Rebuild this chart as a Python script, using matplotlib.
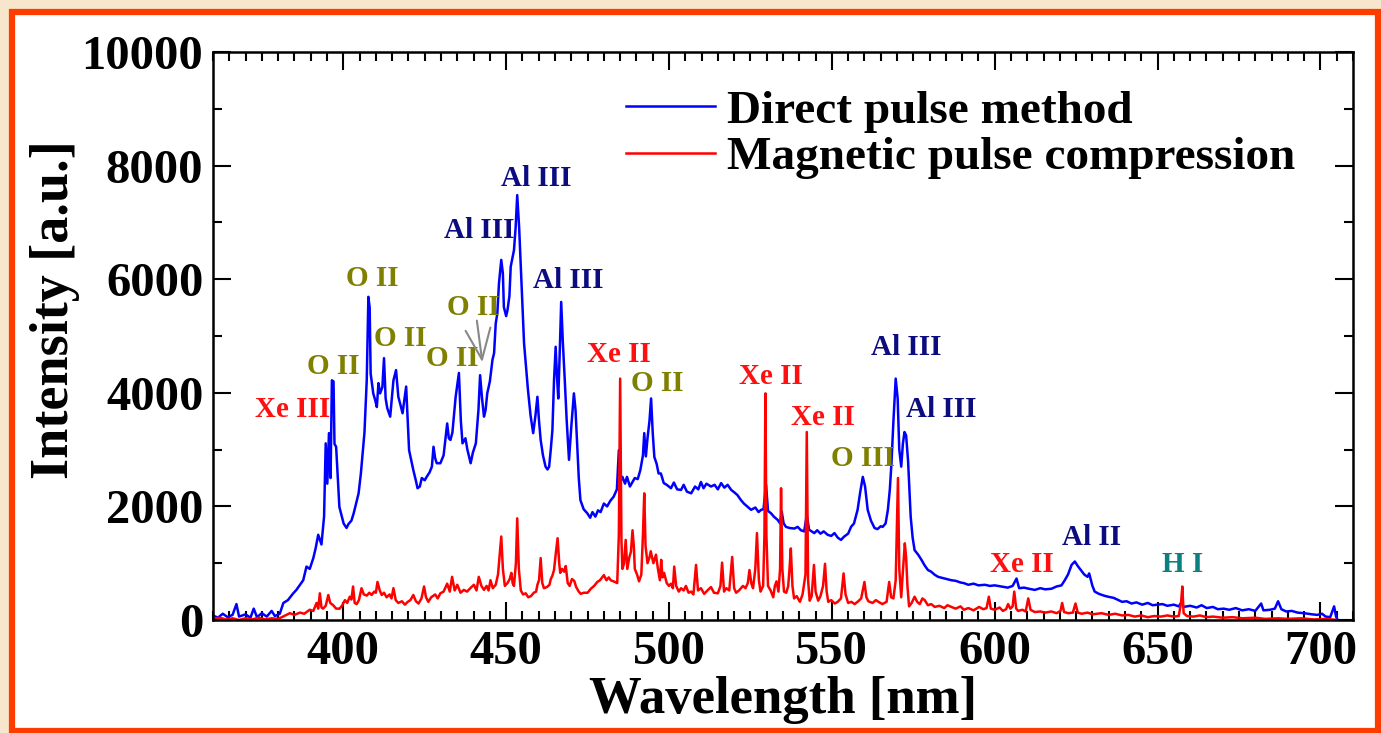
import numpy as np
import matplotlib.pyplot as plt
from matplotlib.patches import Rectangle
from matplotlib.ticker import MultipleLocator

plt.rcParams.update({
    "font.family": "Liberation Serif",
    "font.weight": "bold",
    "axes.labelweight": "bold",
})

# Direct pulse method (blue)
direct = np.array([
    (360, 80), (361.5, 40), (363, 110), (364.5, 50), (366, 90), (367.2, 280), (368, 60),
    (370, 100), (371.5, 40), (372.5, 200), (373.5, 50), (375, 120), (376.5, 60), (378, 160),
    (379, 70), (380.5, 110), (381.6, 300), (383, 350), (384.5, 460), (385.6, 530), (386.7, 620),
    (387.7, 700), (388.7, 940), (389.7, 900), (390.8, 1090), (391.5, 1260), (392.3, 1500),
    (393.3, 1330), (394.1, 1820), (394.6, 3110), (395.1, 2400), (395.6, 3290), (396.1, 2500),
    (396.5, 4220), (397.0, 4200), (397.3, 3100), (397.8, 3050), (398.3, 2520), (398.8, 1990),
    (400.1, 1700), (401.0, 1620), (401.6, 1690), (402.5, 1750), (403.2, 1880), (404.7, 2230),
    (405.4, 2580), (406.5, 3300), (407.2, 4220), (407.7, 5690), (408.1, 5500), (408.4, 4340),
    (409.2, 3990), (409.8, 3870), (410.3, 3750), (410.8, 4170), (411.3, 3990), (412.0, 4100),
    (412.5, 4610), (413.0, 3900), (413.5, 3730), (414.4, 3580), (415.4, 4220), (416.2, 4400),
    (416.9, 3930), (417.5, 3800), (418.2, 3640), (419.3, 4110), (419.8, 3500), (420.2, 2990),
    (421.5, 2640), (422.3, 2450), (422.8, 2320), (423.5, 2350), (424.1, 2500), (425.0, 2460),
    (425.6, 2520), (426.5, 2600), (427.2, 2700), (427.7, 3050), (428.2, 2850), (428.7, 2760),
    (429.8, 2760), (430.8, 2900), (431.9, 3460), (432.4, 3200), (432.9, 3170), (433.5, 3300),
    (434.5, 3930), (435.5, 4350), (436.1, 3500), (436.6, 3110), (437.5, 3200), (438.1, 3000),
    (439.1, 2760), (439.8, 2950), (440.7, 3110), (441.5, 3700), (442.0, 4310), (442.6, 3900),
    (443.2, 3580), (443.7, 3700), (444.2, 3990), (445.0, 4200), (445.8, 4580), (446.3, 4700),
    (446.8, 5220), (447.3, 5400), (447.8, 5930), (448.5, 6340), (449.0, 6100), (449.3, 5510),
    (450.0, 5350), (450.4, 5450), (451.0, 5700), (451.4, 6220), (452.0, 6400), (452.4, 6510),
    (452.9, 6900), (453.4, 7480), (454.0, 6900), (454.5, 6220), (455.0, 5500), (455.5, 4870),
    (456.2, 4400), (456.7, 4050), (457.5, 3600), (458.3, 3290), (459.0, 3600), (459.6, 3930),
    (460.1, 3500), (460.6, 3170), (461.3, 2900), (462.1, 2700), (462.7, 2650), (463.2, 2700),
    (463.7, 3000), (464.2, 3340), (464.7, 4220), (465.2, 4810), (465.6, 4300), (466.0, 3900),
    (466.5, 4800), (466.9, 5600), (467.4, 4900), (468.0, 4220), (468.6, 3500), (469.3, 2820),
    (470.0, 3400), (470.8, 3990), (471.3, 3700), (471.8, 3110), (472.3, 2500), (472.8, 2110),
    (473.8, 1950), (474.9, 1880), (475.8, 1800), (476.5, 1900), (477.4, 1820), (478.2, 1930),
    (479.0, 1900), (480.0, 2050), (481.0, 2000), (482.0, 2100), (483.0, 2170), (484.0, 2300),
    (484.6, 2990), (485.2, 2450), (485.7, 2520), (486.5, 2400), (487.1, 2520), (488.0, 2350),
    (488.6, 2410), (489.5, 2500), (490.4, 2480), (491.2, 2640), (492.0, 2900), (492.4, 3290),
    (492.9, 2880), (493.4, 3200), (494.0, 3500), (494.5, 3900), (495.0, 3300), (495.5, 2870),
    (496.2, 2750), (496.8, 2580), (497.5, 2580), (498.4, 2410), (499.3, 2380), (500.6, 2320),
    (501.5, 2420), (502.5, 2300), (503.7, 2290), (504.5, 2380), (505.5, 2260), (506.8, 2230),
    (508.0, 2350), (509.0, 2300), (509.8, 2430), (510.6, 2320), (511.5, 2400), (512.9, 2350),
    (514.0, 2380), (515.0, 2300), (516.0, 2410), (517.0, 2330), (518.0, 2380), (519.1, 2290),
    (520.0, 2250), (521.0, 2200), (522.1, 2110), (523.0, 2050), (524.0, 2000), (525.2, 1940),
    (526.5, 1980), (527.5, 1900), (528.3, 1940), (529.0, 1950), (529.8, 2380), (530.4, 1920),
    (531.3, 1880), (532.2, 1820), (533.4, 1760), (534.1, 1700), (534.6, 1910), (535.2, 1700),
    (535.9, 1640), (537.0, 1620), (538.5, 1610), (539.5, 1640), (540.5, 1580), (541.5, 1560),
    (542.3, 1850), (543.0, 1590), (544.6, 1530), (545.5, 1580), (546.5, 1520), (547.5, 1560),
    (548.7, 1500), (549.8, 1480), (550.8, 1530), (551.8, 1450), (552.8, 1410), (553.8, 1470),
    (555.0, 1520), (555.9, 1640), (556.8, 1700), (557.9, 1940), (558.7, 2250), (559.5, 2520),
    (560.2, 2350), (561.0, 1940), (562.0, 1750), (563.1, 1620), (564.0, 1600), (565.0, 1650),
    (565.6, 1640), (566.5, 1700), (567.2, 1940), (567.8, 2300), (568.3, 2760), (568.9, 3500),
    (569.6, 4250), (570.2, 3900), (570.7, 3000), (571.3, 2700), (571.8, 3100), (572.3, 3310),
    (572.8, 3250), (573.4, 2800), (574.2, 1820), (574.8, 1450), (575.4, 1230), (576.5, 1150),
    (577.5, 1060), (578.5, 960), (579.5, 880), (580.5, 850), (581.5, 800), (582.6, 760),
    (584.0, 740), (585.5, 720), (586.7, 700), (588.0, 690), (589.5, 660), (590.5, 650),
    (591.9, 620), (593.5, 640), (595.0, 610), (597.0, 620), (598.5, 600), (600.0, 610),
    (602.1, 590), (604.0, 570), (605.5, 600), (606.7, 730), (607.5, 560), (609.0, 570),
    (610.5, 550), (612.3, 530), (614.0, 560), (615.5, 540), (617.4, 550), (619.0, 590),
    (620.5, 610), (621.5, 700), (622.5, 800), (623.6, 970), (624.6, 1030), (625.5, 950),
    (626.7, 860), (627.5, 800), (628.5, 760), (629.0, 820), (630.0, 600), (630.7, 500),
    (632.0, 460), (633.5, 430), (634.8, 410), (636.5, 390), (638.0, 350), (639.1, 320),
    (640.5, 330), (642.0, 290), (643.5, 310), (645.3, 270), (647.0, 300), (648.5, 260),
    (650.0, 270), (651.5, 280), (653.0, 250), (655.0, 270), (656.5, 240), (657.3, 310),
    (658.0, 230), (660.0, 250), (662.0, 220), (663.5, 260), (665.1, 210), (667.0, 230),
    (668.5, 190), (670.3, 200), (672.0, 180), (674.0, 210), (676.0, 170), (678.0, 190),
    (680.0, 160), (681.8, 290), (682.5, 170), (684.5, 180), (686.0, 200), (687.0, 330),
    (688.0, 190), (689.5, 150), (691.2, 160), (693.0, 130), (695.0, 120), (697.4, 100),
    (699.0, 90), (700.5, 110), (701.6, 60), (703.0, 50), (704.2, 240), (704.8, 60), (705.3, 0),
])

# Magnetic pulse compression (red)
magnetic = np.array([
    (360, 20), (362, 40), (364, 10), (366, 30), (368, 0), (370, 30), (372, 10), (374, 40),
    (376, 10), (378, 30), (380, 20), (381.5, 60), (383.6, 120), (385.0, 90), (386.7, 130),
    (388.0, 110), (389.7, 180), (390.8, 160), (391.8, 300), (392.3, 200), (392.8, 470),
    (393.3, 220), (393.8, 200), (394.6, 250), (395.4, 440), (396.0, 300), (396.9, 260),
    (397.8, 200), (398.9, 200), (399.7, 260), (400.5, 350), (401.2, 300), (402.0, 410),
    (402.5, 360), (403.0, 590), (403.5, 300), (404.1, 280), (404.8, 350), (405.6, 560),
    (406.3, 450), (407.2, 430), (408.0, 480), (408.7, 440), (409.5, 500), (410.0, 480),
    (410.5, 670), (411.2, 520), (411.8, 440), (412.5, 480), (413.3, 400), (414.2, 450),
    (414.8, 380), (415.4, 560), (416.1, 350), (416.9, 300), (418.0, 330), (418.9, 270),
    (419.8, 320), (420.6, 350), (421.5, 440), (422.3, 330), (423.1, 290), (424.0, 380),
    (424.8, 590), (425.4, 400), (426.1, 320), (427.0, 400), (428.2, 450), (429.0, 380),
    (429.8, 470), (430.8, 500), (431.9, 640), (432.7, 500), (433.4, 760), (434.2, 520),
    (435.0, 620), (436.0, 480), (437.0, 530), (438.0, 500), (439.0, 560), (440.1, 620),
    (440.9, 520), (441.6, 760), (442.4, 600), (443.2, 530), (444.0, 600), (444.6, 520),
    (445.2, 700), (445.9, 560), (446.8, 620), (447.5, 800), (448.1, 1200), (448.5, 1470),
    (449.0, 900), (449.6, 600), (450.4, 650), (451.1, 720), (451.6, 830), (452.0, 650),
    (452.4, 600), (453.0, 1000), (453.4, 1790), (453.9, 900), (454.5, 520), (455.2, 450),
    (456.0, 470), (456.8, 400), (457.6, 420), (458.5, 480), (459.2, 500), (459.6, 620),
    (460.1, 700), (460.6, 1090), (461.1, 650), (461.6, 560), (462.5, 580), (463.3, 620),
    (463.7, 720), (464.2, 780), (464.7, 880), (465.3, 1200), (465.8, 1440), (466.3, 1000),
    (466.6, 830), (467.2, 900), (467.8, 850), (468.3, 950), (468.9, 650), (469.5, 600),
    (470.2, 720), (470.9, 690), (471.5, 580), (472.3, 500), (472.9, 460), (473.8, 480),
    (475.0, 480), (476.0, 550), (477.0, 600), (478.0, 670), (478.8, 700), (480.0, 790),
    (480.8, 700), (481.5, 750), (482.1, 700), (483.0, 680), (484.1, 650), (484.6, 1500),
    (485.0, 4250), (485.4, 1400), (485.7, 900), (486.2, 1000), (486.7, 1410), (487.2, 900),
    (487.8, 1100), (488.3, 1200), (488.8, 1580), (489.2, 1300), (489.5, 900), (490.2, 800),
    (490.8, 680), (491.5, 800), (492.0, 1500), (492.4, 2230), (492.8, 1300), (493.4, 1000),
    (494.0, 1100), (494.4, 1210), (495.2, 1000), (496.0, 1150), (496.6, 900), (497.2, 700),
    (497.6, 1060), (498.0, 750), (498.5, 830), (499.3, 650), (500.0, 600), (500.6, 640),
    (501.2, 560), (501.6, 940), (502.2, 600), (503.0, 500), (503.7, 560), (504.5, 520),
    (505.2, 600), (506.0, 480), (506.8, 500), (507.5, 450), (508.3, 970), (508.9, 520),
    (509.8, 560), (510.8, 460), (511.8, 520), (512.9, 580), (513.8, 480), (515.0, 470),
    (515.8, 600), (516.3, 1010), (516.9, 500), (517.6, 560), (518.5, 520), (519.4, 1110),
    (520.0, 560), (520.6, 480), (521.5, 520), (522.7, 600), (523.5, 560), (524.2, 650),
    (524.7, 880), (525.3, 640), (525.8, 560), (526.5, 900), (527.0, 1530), (527.6, 700),
    (528.1, 500), (528.9, 600), (529.3, 1500), (529.6, 3990), (529.9, 1500), (530.4, 600),
    (531.2, 520), (532.0, 400), (532.5, 600), (533.0, 680), (533.6, 500), (534.1, 900),
    (534.4, 2320), (534.8, 900), (535.3, 500), (536.0, 480), (536.6, 600), (537.0, 900),
    (537.4, 1260), (537.9, 600), (538.4, 380), (539.2, 420), (540.2, 320), (541.0, 450),
    (541.9, 800), (542.3, 3310), (542.7, 700), (543.2, 340), (543.8, 420), (544.5, 970),
    (545.0, 500), (545.8, 340), (546.5, 420), (547.3, 600), (547.9, 990), (548.4, 500),
    (548.9, 320), (549.8, 350), (550.9, 290), (551.8, 320), (552.8, 380), (553.6, 820),
    (554.2, 450), (555.0, 300), (556.0, 320), (557.0, 280), (558.1, 330), (559.0, 380),
    (560.0, 670), (560.6, 400), (561.2, 330), (562.5, 300), (563.5, 350), (564.3, 320),
    (565.5, 280), (566.8, 320), (567.6, 670), (568.2, 400), (568.9, 380), (569.6, 700),
    (570.0, 1700), (570.3, 2500), (570.7, 900), (571.3, 400), (571.8, 850), (572.4, 1350),
    (572.8, 1100), (573.2, 600), (573.7, 240), (574.5, 300), (575.4, 410), (576.2, 320),
    (577.0, 280), (577.8, 380), (578.5, 350), (579.5, 260), (580.5, 280), (581.6, 230),
    (583.0, 250), (584.5, 210), (585.5, 260), (586.7, 230), (588.0, 200), (589.5, 240),
    (590.5, 180), (591.9, 210), (593.5, 170), (595.2, 230), (596.5, 190), (597.5, 210),
    (598.2, 410), (598.8, 200), (600.0, 180), (601.5, 220), (602.5, 160), (603.5, 190),
    (604.1, 280), (604.8, 200), (605.5, 240), (606.0, 500), (606.6, 200), (607.2, 160),
    (608.5, 180), (609.5, 150), (610.3, 380), (611.0, 180), (612.3, 140), (614.0, 150),
    (615.5, 130), (617.4, 150), (619.0, 120), (620.2, 160), (620.7, 300), (621.3, 140),
    (622.6, 120), (624.0, 130), (624.8, 290), (625.5, 130), (626.7, 110), (628.5, 130),
    (630.0, 100), (632.8, 120), (635.0, 90), (637.0, 110), (639.1, 80), (641.0, 90),
    (643.0, 60), (645.0, 80), (647.0, 50), (649.0, 70), (651.0, 60), (653.0, 80),
    (655.0, 60), (656.5, 70), (657.2, 300), (657.6, 590), (658.0, 120), (659.0, 70),
    (661.0, 60), (663.0, 80), (665.0, 50), (667.0, 60), (670.0, 40), (673.0, 50),
    (676.0, 30), (680.0, 40), (683.0, 20), (687.0, 30), (690.0, 20), (694.0, 30),
    (698.0, 10), (702.0, 20), (705.0, 0),
])

# line identifications: text, x, y, colour
lab_text = ["Xe III", "O II", "O II", "O II", "O II", "O II", "Al III", "Al III", "Al III",
            "Xe II", "O II", "Xe II", "Xe II", "O III", "Al III", "Al III", "Xe II", "Al II", "H I"]
lab_x = [384.3, 396.9, 408.9, 417.5, 433.5, 440.0, 441.8, 459.1, 469.2,
         484.6, 496.3, 531.4, 547.4, 559.7, 572.9, 583.7, 608.3, 629.8, 657.8]
lab_y = [3700, 4470, 6020, 4960, 4610, 5510, 6860, 7780, 5980,
         4680, 4170, 4280, 3570, 2850, 4790, 3700, 970, 1460, 970]
XE, OX, AL, HY = "#ff1010", "#7f7f00", "#0c0c80", "#0a8080"
lab_col = [XE, OX, OX, OX, OX, OX, AL, AL, AL, XE, OX, XE, XE, OX, AL, AL, XE, AL, HY]

fig = plt.figure(figsize=(13.81, 7.33), dpi=100)
fig.patch.set_facecolor("#f8e6cc")
fig.patches.append(Rectangle((12 / 1381, 2 / 733), 1366 / 1381, 719 / 733,
                             transform=fig.transFigure, facecolor="white",
                             edgecolor="#ff3c00", linewidth=4.5, zorder=-1))

ax = fig.add_axes([213 / 1381, 113 / 733, 1140 / 1381, 568 / 733])
ax.plot(direct[:, 0], direct[:, 1], color="#0000ff", lw=1.8, label="Direct pulse method")
ax.plot(magnetic[:, 0], magnetic[:, 1], color="#ff0000", lw=1.8,
        label="Magnetic pulse compression")

for t, x, y, c in zip(lab_text, lab_x, lab_y, lab_col):
    ax.text(x, y, t, color=c, fontsize=21, ha="center", va="center", fontweight="bold")

ax.annotate("", xy=(442.8, 4490), xytext=(440.9, 5320),
            arrowprops=dict(arrowstyle="->,head_length=2.2,head_width=0.9",
                            color="#888888", lw=1.5))

ax.set_xlim(360, 710)
ax.set_ylim(0, 10000)
ax.xaxis.set_major_locator(MultipleLocator(50))
ax.xaxis.set_minor_locator(MultipleLocator(5))
ax.yaxis.set_major_locator(MultipleLocator(2000))
ax.yaxis.set_minor_locator(MultipleLocator(1000))
ax.tick_params(which="both", direction="in", top=True, right=True, width=1.5,
               labelsize=35)
ax.tick_params(which="major", length=13, pad=7)
ax.tick_params(which="minor", length=6.5)
for s in ax.spines.values():
    s.set_linewidth(1.8)

ax.set_xlabel("Wavelength [nm]", fontsize=38, labelpad=2)
ax.set_ylabel("Intensity [a.u.]", fontsize=39)
ax.yaxis.set_label_coords(-0.117, 0.546)

ax.legend(loc="upper left", bbox_to_anchor=(0.362, 0.934), frameon=False,
          fontsize=34, handlelength=1.9, handletextpad=0.25, labelspacing=0.08,
          borderpad=0, borderaxespad=0)

fig.savefig("out.png", dpi=100, facecolor=fig.get_facecolor())
